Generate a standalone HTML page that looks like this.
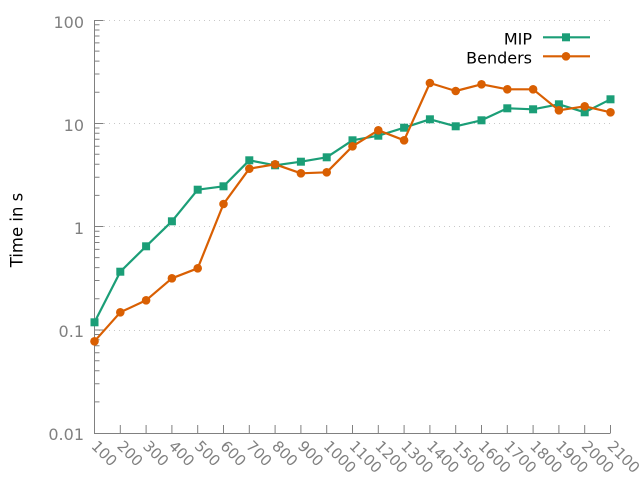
<!DOCTYPE html>
<html><head><meta charset="utf-8"><style>
html,body{margin:0;padding:0;background:#fff;}
svg{display:block;}
text{font-family:"DejaVu Sans","Liberation Sans",sans-serif;}
</style></head><body>
<svg width="640" height="480" viewBox="0 0 640 480" xmlns="http://www.w3.org/2000/svg">
<rect width="640" height="480" fill="#fff"/>
<!-- grid -->
<g stroke="#c8c8c8" stroke-width="1" stroke-dasharray="1,4">
<line x1="99" y1="20.5" x2="610" y2="20.5"/>
<line x1="99" y1="123.5" x2="610" y2="123.5"/>
<line x1="99" y1="226.5" x2="610" y2="226.5"/>
<line x1="99" y1="330.5" x2="610" y2="330.5"/>
</g>
<!-- axes -->
<g stroke="#808080" stroke-width="1" fill="none">
<path d="M94.5 20 V433.5 H610.5"/>
<path d="M94.5 20.5h9M94.5 123.5h9M94.5 226.5h9M94.5 330h9"/>
<path d="M94.5 401.9h5M94.5 383.7h5M94.5 370.8h5M94.5 360.8h5M94.5 352.7h5M94.5 345.7h5M94.5 339.8h5M94.5 334.5h5
M94.5 298.7h5M94.5 280.5h5M94.5 267.6h5M94.5 257.6h5M94.5 249.4h5M94.5 242.5h5M94.5 236.5h5M94.5 231.2h5
M94.5 195.4h5M94.5 177.2h5M94.5 164.3h5M94.5 154.3h5M94.5 146.2h5M94.5 139.2h5M94.5 133.3h5M94.5 128h5
M94.5 92.2h5M94.5 74h5M94.5 61.1h5M94.5 51.1h5M94.5 42.9h5M94.5 36h5M94.5 30h5M94.5 24.7h5"/>
<path d="M120.3 433v-8M146.1 433v-8M171.9 433v-8M197.7 433v-8M223.5 433v-8M249.3 433v-8M275.1 433v-8M300.9 433v-8M326.7 433v-8M352.5 433v-8M378.3 433v-8M404.1 433v-8M429.9 433v-8M455.7 433v-8M481.5 433v-8M507.3 433v-8M533.1 433v-8M558.9 433v-8M584.7 433v-8M610.5 433v-8"/>
</g>
<!-- y tick labels -->
<g fill="#808080" font-size="16" text-anchor="end">
<text x="84" y="28">100</text>
<text x="84" y="131">10</text>
<text x="84" y="234">1</text>
<text x="84" y="337">0.1</text>
<text x="84" y="440">0.01</text>
</g>
<!-- x tick labels -->
<g fill="#808080" font-size="15">
<text transform="translate(90.5,447) rotate(45)">100</text>
<text transform="translate(116.3,447) rotate(45)">200</text>
<text transform="translate(142.1,447) rotate(45)">300</text>
<text transform="translate(167.9,447) rotate(45)">400</text>
<text transform="translate(193.7,447) rotate(45)">500</text>
<text transform="translate(219.5,447) rotate(45)">600</text>
<text transform="translate(245.3,447) rotate(45)">700</text>
<text transform="translate(271.1,447) rotate(45)">800</text>
<text transform="translate(296.9,447) rotate(45)">900</text>
<text transform="translate(322.7,447) rotate(45)">1000</text>
<text transform="translate(348.5,447) rotate(45)">1100</text>
<text transform="translate(374.3,447) rotate(45)">1200</text>
<text transform="translate(400.1,447) rotate(45)">1300</text>
<text transform="translate(425.9,447) rotate(45)">1400</text>
<text transform="translate(451.7,447) rotate(45)">1500</text>
<text transform="translate(477.5,447) rotate(45)">1600</text>
<text transform="translate(503.3,447) rotate(45)">1700</text>
<text transform="translate(529.1,447) rotate(45)">1800</text>
<text transform="translate(554.9,447) rotate(45)">1900</text>
<text transform="translate(580.7,447) rotate(45)">2000</text>
<text transform="translate(606.5,447) rotate(45)">2100</text>
</g>
<!-- y axis label -->
<text transform="translate(22.5,230) rotate(-90)" font-size="16.5" fill="#000" text-anchor="middle">Time in s</text>
<!-- MIP -->
<polyline fill="none" stroke="#1b9e77" stroke-width="2.2" stroke-linejoin="round" points="94.5,322.3 120.3,271.7 146.1,246.3 171.9,221.3 197.7,189.7 223.5,186.3 249.3,160.3 275.1,165.3 300.9,161.7 326.7,157.3 352.5,140.3 378.3,135.7 404.1,127.7 429.9,119.3 455.7,126.3 481.5,120.3 507.3,108.3 533.1,109.3 558.9,104.3 584.7,112.3 610.5,99.3"/>
<g fill="#1b9e77">
<rect x="90.5" y="318.3" width="8" height="8"/><rect x="116.3" y="267.7" width="8" height="8"/><rect x="142.1" y="242.3" width="8" height="8"/><rect x="167.9" y="217.3" width="8" height="8"/><rect x="193.7" y="185.7" width="8" height="8"/><rect x="219.5" y="182.3" width="8" height="8"/><rect x="245.3" y="156.3" width="8" height="8"/><rect x="271.1" y="161.3" width="8" height="8"/><rect x="296.9" y="157.7" width="8" height="8"/><rect x="322.7" y="153.3" width="8" height="8"/><rect x="348.5" y="136.3" width="8" height="8"/><rect x="374.3" y="131.7" width="8" height="8"/><rect x="400.1" y="123.7" width="8" height="8"/><rect x="425.9" y="115.3" width="8" height="8"/><rect x="451.7" y="122.3" width="8" height="8"/><rect x="477.5" y="116.3" width="8" height="8"/><rect x="503.3" y="104.3" width="8" height="8"/><rect x="529.1" y="105.3" width="8" height="8"/><rect x="554.9" y="100.3" width="8" height="8"/><rect x="580.7" y="108.3" width="8" height="8"/><rect x="606.5" y="95.3" width="8" height="8"/>
</g>
<!-- Benders -->
<polyline fill="none" stroke="#d95f02" stroke-width="2.2" stroke-linejoin="round" points="94.5,341.3 120.3,312.3 146.1,300.3 171.9,278.3 197.7,268.3 223.5,204 249.3,168.7 275.1,164.3 300.9,173.3 326.7,172.3 352.5,146.3 378.3,130.3 404.1,140.3 429.9,83 455.7,91 481.5,84.3 507.3,89.3 533.1,89.3 558.9,110.3 584.7,106.3 610.5,112.3"/>
<g fill="#d95f02">
<circle cx="94.5" cy="341.3" r="4.3"/><circle cx="120.3" cy="312.3" r="4.3"/><circle cx="146.1" cy="300.3" r="4.3"/><circle cx="171.9" cy="278.3" r="4.3"/><circle cx="197.7" cy="268.3" r="4.3"/><circle cx="223.5" cy="204" r="4.3"/><circle cx="249.3" cy="168.7" r="4.3"/><circle cx="275.1" cy="164.3" r="4.3"/><circle cx="300.9" cy="173.3" r="4.3"/><circle cx="326.7" cy="172.3" r="4.3"/><circle cx="352.5" cy="146.3" r="4.3"/><circle cx="378.3" cy="130.3" r="4.3"/><circle cx="404.1" cy="140.3" r="4.3"/><circle cx="429.9" cy="83" r="4.3"/><circle cx="455.7" cy="91" r="4.3"/><circle cx="481.5" cy="84.3" r="4.3"/><circle cx="507.3" cy="89.3" r="4.3"/><circle cx="533.1" cy="89.3" r="4.3"/><circle cx="558.9" cy="110.3" r="4.3"/><circle cx="584.7" cy="106.3" r="4.3"/><circle cx="610.5" cy="112.3" r="4.3"/>
</g>
<!-- legend -->
<g font-size="16" fill="#000" text-anchor="end">
<text x="532" y="44.3">MIP</text>
<text x="532" y="63.3">Benders</text>
</g>
<line x1="543" y1="37.3" x2="590" y2="37.3" stroke="#1b9e77" stroke-width="2.2"/>
<rect x="562" y="33.3" width="8" height="8" fill="#1b9e77"/>
<line x1="543" y1="56.3" x2="590" y2="56.3" stroke="#d95f02" stroke-width="2.2"/>
<circle cx="566" cy="56.3" r="4.3" fill="#d95f02"/>
</svg>
</body></html>
